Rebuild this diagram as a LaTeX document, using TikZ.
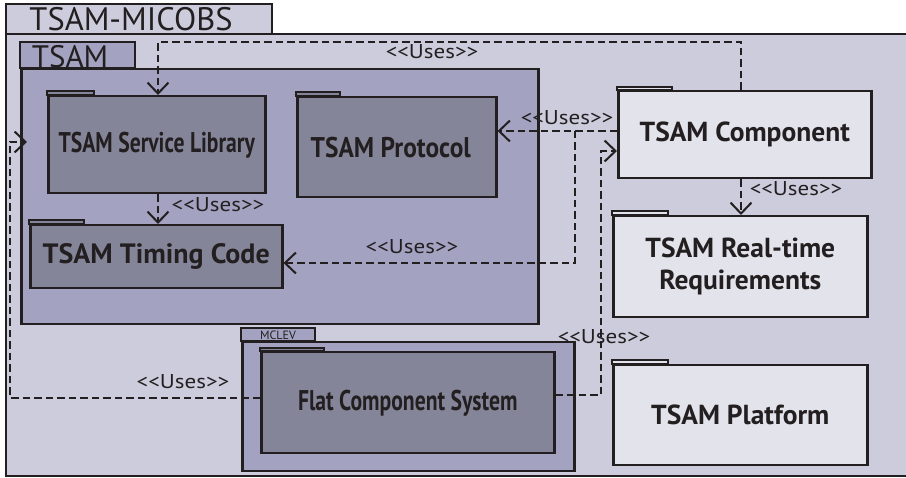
\documentclass[tikz,border=0pt]{standalone}
\usepackage{fontspec}
\setmainfont{PT Sans}
\newfontfamily\condA[FakeStretch=0.76]{PT Sans}
\newfontfamily\condB[FakeStretch=0.89]{PT Sans}
\newfontfamily\wideA[FakeStretch=1.15]{PT Sans}
\usetikzlibrary{arrows.meta}
\definecolor{outerc}{HTML}{CCCCDC}
\definecolor{midc}{HTML}{A3A3C1}
\definecolor{darkc}{HTML}{858599}
\definecolor{lightc}{HTML}{E3E3EC}
\definecolor{inkc}{HTML}{231F20}
\newcommand\usestxt{\symbol{60}\symbol{60}Uses\symbol{62}\symbol{62}}
\tikzset{
  frame/.style={draw=inkc, line width=2.5pt},
  body/.style={frame, rectangle, inner sep=0pt, anchor=north west, text=inkc, align=center},
  darkbox/.style={body, fill=darkc},
  lightbox/.style={body, fill=lightc, font=\bfseries\fontsize{27.5}{32}\selectfont},
  tabshape/.style={frame, line width=2pt},
  uses/.style={draw=inkc, line width=2pt, dash pattern=on 7.5pt off 4pt, -{Straight Barb[length=11pt,width=21pt,line width=2pt]}},
  lbl/.style={text=inkc, font=\wideA\fontsize{20}{22}\selectfont, inner sep=0pt},
}
\begin{document}
\begin{tikzpicture}[x=1pt,y=-1pt]
\useasboundingbox (0,0) rectangle (906,478);
\fill[white] (0,0) rectangle (906,478);
% outer package TSAM-MICOBS
\filldraw[tabshape, fill=outerc, line width=2.5pt] (6,4) rectangle (272,34);
\fill[outerc] (6,34) rectangle (906,476);
\draw[frame] (906,34) -- (6,34) -- (6,476) -- (906,476);
\node[text=inkc, font=\fontsize{32.5}{34}\selectfont, inner sep=0pt] (micobs) at (131,19) {TSAM-MICOBS};
% TSAM package
\filldraw[tabshape, fill=midc, line width=2.5pt] (20,42) rectangle (135,68);
\node[body, fill=midc, minimum width=517pt, minimum height=255pt] (tsam) at (20,68) {};
\node[text=inkc, font=\fontsize{31}{33}\selectfont, inner sep=0pt] (tsamlbl) at (70,57) {TSAM};
% inner packages of TSAM
\filldraw[tabshape, fill=darkc] (47,91) rectangle (94,95);
\node[darkbox, minimum width=217pt, minimum height=97pt, font=\condA\bfseries\fontsize{28.5}{30}\selectfont] (lib) at (47,95) {TSAM Service Library};
\filldraw[tabshape, fill=darkc] (296,92) rectangle (340,96);
\node[darkbox, minimum width=199pt, minimum height=100pt, font=\condB\bfseries\fontsize{28.5}{30}\selectfont] (proto) at (296,96) {TSAM Protocol\hspace*{12pt}};
\filldraw[tabshape, fill=darkc] (29,220) rectangle (84,224);
\node[darkbox, minimum width=252pt, minimum height=63pt, font=\bfseries\fontsize{28}{30}\selectfont] (timing) at (29,224) {TSAM Timing Code};
% right column
\filldraw[tabshape, fill=lightc] (617,87) rectangle (672,90);
\node[lightbox, minimum width=253pt, minimum height=87pt] (comp) at (617,90) {TSAM Component};
\filldraw[tabshape, fill=lightc] (612,211) rectangle (668,215);
\node[lightbox, minimum width=254pt, minimum height=101pt] (req) at (612,215) {TSAM Real-time\\Requirements};
\filldraw[tabshape, fill=lightc] (612,360) rectangle (668,364);
\node[lightbox, minimum width=254pt, minimum height=100pt] (plat) at (612,364) {TSAM Platform};
% MCLEV
\filldraw[tabshape, fill=midc] (241,328) rectangle (315,341);
\node[body, fill=midc, minimum width=332pt, minimum height=129pt] (mclev) at (241,341) {};
\node[text=inkc, font=\fontsize{12}{13}\selectfont, inner sep=0pt] (mclevlbl) at (278,335.5) {MCLEV};
\filldraw[tabshape, fill=darkc] (260,348) rectangle (324,351);
\node[darkbox, minimum width=293pt, minimum height=101pt, font=\condA\bfseries\fontsize{28.5}{30}\selectfont] (flat) at (260,351) {Flat Component System};
% connector bends
\coordinate (k1) at (741,42);
\coordinate (k2) at (158,42);
\coordinate (k3) at (575,131);
\coordinate (k4) at (575,263);
\coordinate (k5) at (601,395);
\coordinate (k6) at (601,151);
\coordinate (k7) at (10,398);
\coordinate (k8) at (10,142);
\coordinate (k9) at (27,142);
% connectors
\draw[uses] (comp.north -| k1) -- (k1) -- (k2) -- (k2 |- lib.north);
\draw[uses] (k2 |- lib.south) -- (k2 |- timing.north);
\draw[uses] (k3 -| comp.west) -- (k3 -| proto.east);
\draw[uses] (k3) -- (k4) -- (k4 -| timing.east);
\draw[uses] (k5 -| flat.east) -- (k5) -- (k6) -- (k6 -| comp.west);
\draw[uses] (k7 -| flat.west) -- (k7) -- (k8) -- (k9);
\draw[uses] (comp.south -| k1) -- (req.north -| k1);
% labels
\node[lbl] (l1) at (432,52) {\usestxt};
\node[lbl] (l2) at (218,205) {\usestxt};
\node[lbl] (l3) at (567,118) {\usestxt};
\node[lbl] (l4) at (412,247) {\usestxt};
\node[lbl] (l5) at (604,337) {\usestxt};
\node[lbl] (l6) at (183,382) {\usestxt};
\node[lbl] (l7) at (796,189) {\usestxt};
\end{tikzpicture}
\end{document}
